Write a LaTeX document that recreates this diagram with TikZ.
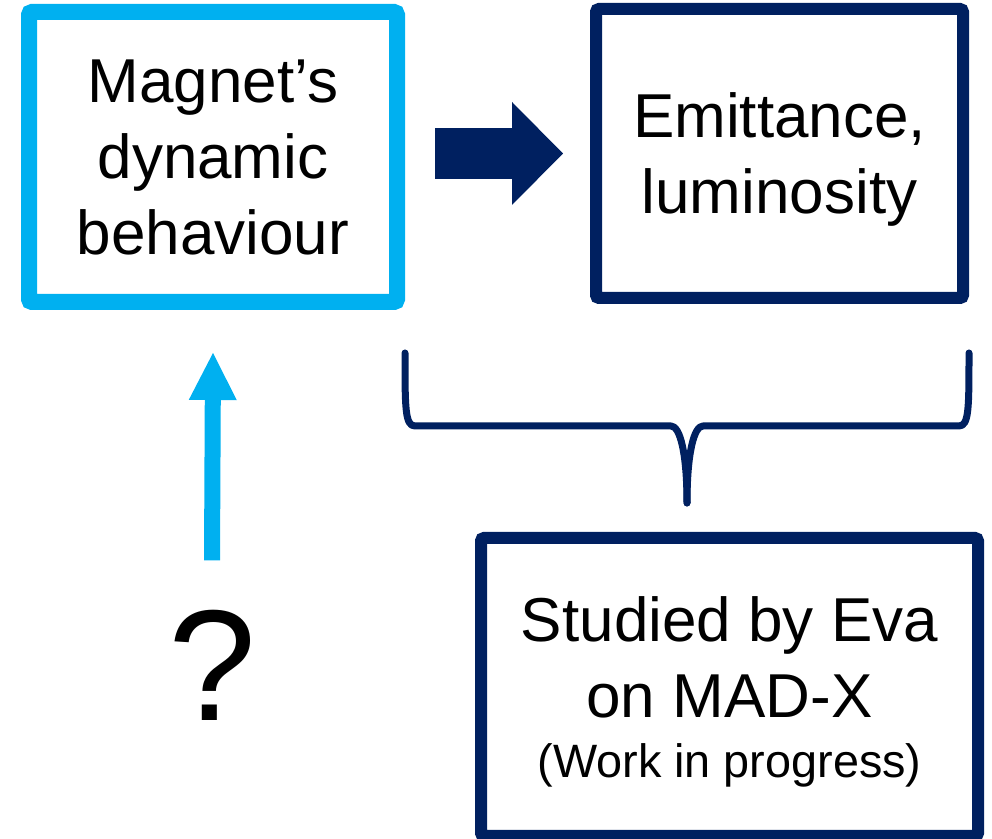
\documentclass[tikz,border=0pt]{standalone}
\usepackage{fontspec}
\setmainfont{Liberation Sans}
\usetikzlibrary{arrows.meta, positioning, calc}
\definecolor{skyln}{HTML}{00B0F0}
\definecolor{navy}{HTML}{002060}
\tikzset{
  mbox/.style={draw=skyln, line width=8pt, rounded corners=1.5pt, align=center, inner sep=0pt,
               minimum width=184pt, minimum height=145pt, font=\fontsize{31}{38}\selectfont},
  nbox/.style={draw=navy, line width=6pt, rounded corners=1.5pt, align=center, inner sep=0pt,
               font=\fontsize{31}{38}\selectfont},
  fl/.style={-{Triangle[length=25.5pt, width=51.5pt, line width=0pt]}, line width=25.5pt, draw=navy},
  ul/.style={-{Triangle[length=23.5pt, width=24pt, line width=0pt]}, line width=8pt, draw=skyln},
  brc/.style={draw=navy, line width=3.5pt, line cap=round, line join=round},
}

\begin{document}
\begin{tikzpicture}[x=0.5pt, y=-0.5pt]
  \useasboundingbox (0,0) rectangle (992,839);
  \node[mbox] (mag) at (213,157) {Magnet's\\dynamic\\behaviour};
  \node[nbox, minimum width=183.5pt, minimum height=144.5pt] (emit) at (779.5,153.5)
    {Emittance,\\\raisebox{0pt}[\height][0pt]{luminosity}};
  \node[nbox, minimum width=248.5pt, minimum height=149pt] (eva) at (729.5,687)
    {Studied by Eva\\on MAD-X\\[-8pt]{\fontsize{23.4}{28}\selectfont\raisebox{0pt}[\height][0pt]{(Work in progress)}}};
  \node[inner sep=0pt, font=\fontsize{79}{90}\selectfont] (q) at (212,665) {?};
  \draw[fl] ([xshift=15pt]mag.east |- emit.west) -- ([xshift=-13.5pt]emit.west);
  \draw[ul] ([yshift=24.5pt]q.north) -- ([yshift=-21.5pt]mag.south);
  \coordinate (bl) at ([yshift=-21.5pt]mag.south east);
  \coordinate (br) at (emit.south east |- bl);
  \coordinate (bt) at ($(bl)!0.5!(br)+(0,150)$);
  \coordinate (bm) at ($(bt)+(0,-77)$);
  \draw[brc] (bl) .. controls +(0,55) and +(-10,0) .. ([xshift=5pt]bl |- bm)
    -- ([xshift=-8pt]bm) .. controls +(9,0) and +(0,-50) .. (bt);
  \draw[brc] (br) .. controls +(0,55) and +(10,0) .. ([xshift=-5pt]br |- bm)
    -- ([xshift=8pt]bm) .. controls +(-9,0) and +(0,-50) .. (bt);
\end{tikzpicture}
\end{document}
